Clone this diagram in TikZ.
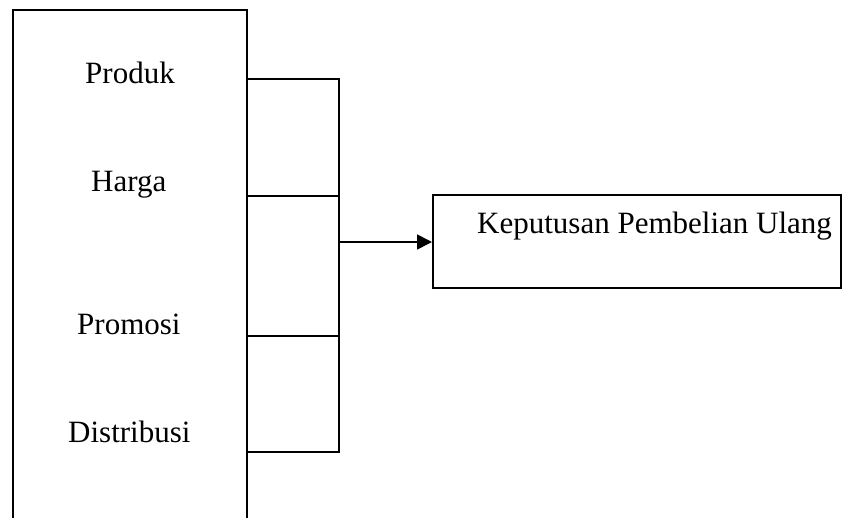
\documentclass[tikz,border=0pt]{standalone}
\usepackage{fontspec}
\setmainfont{Liberation Serif}
\usepackage{tikz}
\usetikzlibrary{arrows.meta}
\usetikzlibrary{positioning}

\tikzset{
  kotak/.style={draw, line width=1.6pt, rectangle, inner sep=0pt},
  teks/.style={font=\fontsize{31}{37}\selectfont, inner sep=0pt, anchor=base west},
  garis/.style={line width=1.6pt},
  panah/.style={garis, -{Triangle[length=15pt,width=15pt]}}
}

\begin{document}
\begin{tikzpicture}[x=1pt,y=-1pt]
      \useasboundingbox (0,0) rectangle (866,517);
      \clip (0,0) rectangle (866,517);
      % Kotak variabel bebas
      \node[kotak, minimum width=234pt, minimum height=525pt, anchor=north west] (bebas) at (12,9) {};
      \node[teks] (produk) at (85,83) {Produk};
      \node[teks] (harga) at (91,191) {Harga};
      \node[teks] (promosi) at (77,334) {Promosi};
      \node[teks] (distribusi) at (68,442) {Distribusi};
      % Kotak variabel terikat
      \node[kotak, minimum width=408pt, minimum height=93pt, anchor=north west] (terikat) at (432,194) {};
      \node[teks] (keputusan) at (477,233) {Keputusan Pembelian Ulang};
      % Titik sambung
      \foreach \n/\y in {p1/79,p2/196,p3/336,p4/452}
      {
        \coordinate (\n) at (bebas.east |- 0,\y);
        \coordinate (\n k) at (339,\y);
      }
      \coordinate (tengah) at (339,242);
      \draw[garis] (p1) -- (p1k) -- (p4k) -- (p4);
      \draw[garis] (p2) -- (p2k);
      \draw[garis] (p3) -- (p3k);
      \draw[panah] (tengah) -- (terikat.west |- tengah);
\end{tikzpicture}
\end{document}
